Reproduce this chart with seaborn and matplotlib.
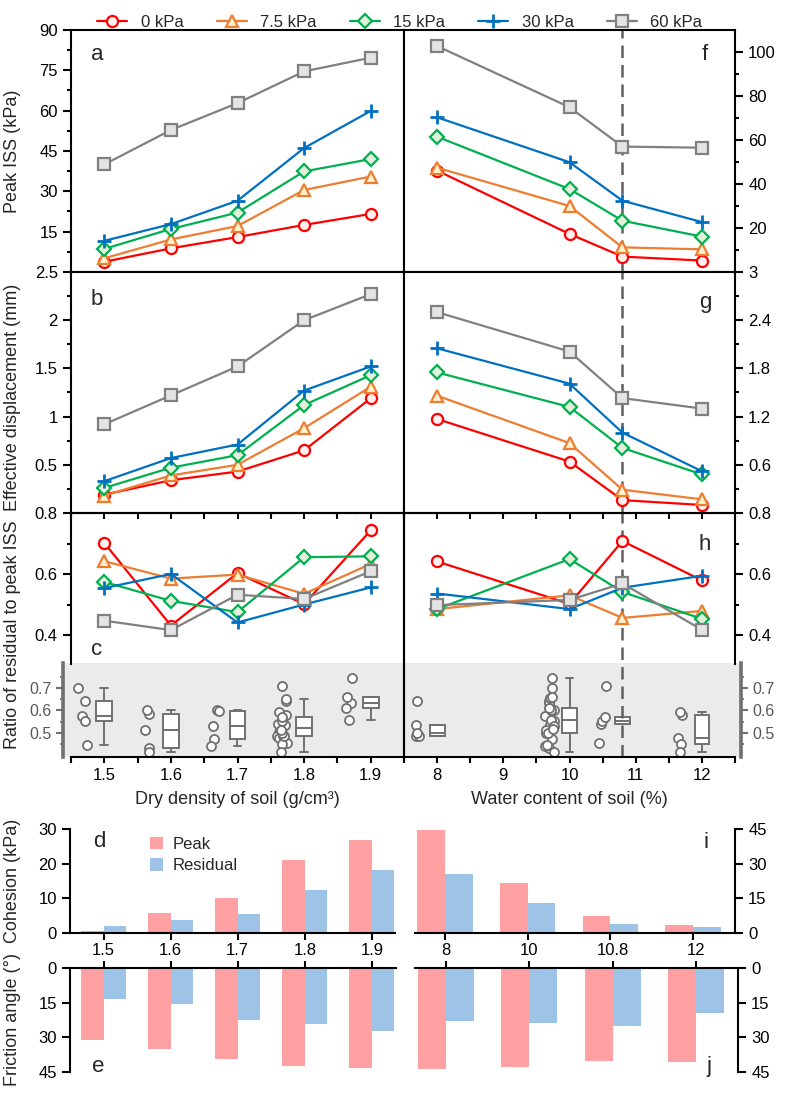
import numpy as np
import pandas as pd
import matplotlib.pyplot as plt
import seaborn as sns

# --- DATA ---
LOADS = ['0 kPa', '7.5 kPa', '15 kPa', '30 kPa', '60 kPa']
DENSITY = [1.5, 1.6, 1.7, 1.8, 1.9]
WATER = [8, 10, 10.8, 12]

# rows follow LOADS
PEAK_DENSITY = [[3.8, 8.8, 13.0, 17.5, 21.6],
                [5.1, 12.1, 17.1, 30.5, 35.5],
                [8.6, 16.0, 22.1, 37.4, 42.0],
                [11.6, 17.8, 26.5, 46.1, 59.9],
                [40.0, 52.8, 62.8, 74.6, 79.7]]
PEAK_WATER = [[46.1, 17.3, 7.0, 5.2],
              [47.4, 30.0, 11.2, 10.3],
              [61.5, 37.7, 23.3, 16.1],
              [70.3, 49.9, 32.4, 22.7],
              [102.7, 74.9, 57.0, 56.5]]
DISP_DENSITY = [[0.19, 0.34, 0.43, 0.65, 1.19],
                [0.18, 0.39, 0.50, 0.88, 1.31],
                [0.26, 0.47, 0.60, 1.12, 1.43],
                [0.33, 0.57, 0.71, 1.27, 1.52],
                [0.92, 1.22, 1.52, 2.00, 2.27]]
DISP_WATER = [[1.17, 0.64, 0.16, 0.10],
              [1.46, 0.87, 0.29, 0.17],
              [1.75, 1.32, 0.81, 0.48],
              [2.05, 1.61, 1.00, 0.52],
              [2.50, 2.01, 1.43, 1.30]]
RATIO_DENSITY = [[0.702, 0.431, 0.603, 0.501, 0.743],
                 [0.642, 0.585, 0.598, 0.535, 0.633],
                 [0.574, 0.512, 0.475, 0.655, 0.658],
                 [0.554, 0.600, 0.441, 0.500, 0.556],
                 [0.447, 0.416, 0.532, 0.518, 0.609]]
RATIO_WATER = [[0.641, 0.502, 0.708, 0.579],
               [0.485, 0.530, 0.456, 0.479],
               [0.485, 0.649, 0.541, 0.453],
               [0.536, 0.485, 0.555, 0.594],
               [0.498, 0.515, 0.569, 0.417]]

COH_PEAK_D = [0.7, 5.9, 10.1, 21.2, 26.9]
COH_RES_D = [1.9, 3.8, 5.6, 12.3, 18.3]
FRIC_PEAK_D = [31.2, 35.2, 39.5, 42.2, 43.2]
FRIC_RES_D = [13.5, 15.7, 22.5, 24.2, 27.4]
COH_PEAK_W = [44.6, 21.8, 7.5, 3.3]
COH_RES_W = [25.7, 12.8, 3.8, 2.8]
FRIC_PEAK_W = [43.8, 42.8, 40.2, 40.6]
FRIC_RES_W = [22.9, 23.9, 25.1, 19.3]

# --- STYLE ---
LINE_COLORS = ['#FF0000', '#ED7D31', '#00B050', '#0070C0', '#808080']
FACE_COLORS = ['#FFF0F0', '#FFF2CC', '#E2EFDA', '#0070C0', '#E4E4E4']
MARKERS = ['o', '^', 'D', '+', 's']
MSIZES = [8, 8.5, 7, 10, 8]
PINK, LIGHTBLUE = '#FFA0A2', '#9DC3E6'
BOXGRAY = '#707070'
W, H = 787, 1095

sns.set_style("ticks")
plt.rcParams['font.family'] = ['Liberation Sans', 'DejaVu Sans']
plt.rcParams.update({
    'axes.linewidth': 1.5, 'axes.edgecolor': 'black',
    'xtick.major.width': 1.5, 'ytick.major.width': 1.5,
    'xtick.minor.width': 1.5, 'ytick.minor.width': 1.5,
    'xtick.color': 'black', 'ytick.color': 'black',
    'xtick.labelsize': 12, 'ytick.labelsize': 12, 'axes.labelsize': 13,
    'font.size': 12,
})

fig = plt.figure(figsize=(W / 100, H / 100), dpi=100)


def add_ax(x0, y0, x1, y1):
    # pixel box -> figure fraction
    return fig.add_axes([x0 / W, 1 - y1 / H, (x1 - x0) / W, (y1 - y0) / H])


def draw_lines(ax, xs, rows):
    for i, vals in enumerate(rows):
        sns.lineplot(x=xs, y=vals, ax=ax, color=LINE_COLORS[i], linewidth=1.6,
                     marker=MARKERS[i], markersize=MSIZES[i],
                     markerfacecolor=FACE_COLORS[i], markeredgecolor=LINE_COLORS[i],
                     markeredgewidth=2 if MARKERS[i] == '+' else 1.6,
                     label=LOADS[i], legend=False)


def style_line_ax(ax, side, xmajor, xminor, xlim, letter, lpos, labels=False):
    ax.set_xlim(*xlim)
    ax.set_xticks(xmajor)
    ax.set_xticks(xminor, minor=True)
    ax.tick_params(axis='x', which='both', bottom=True, top=False, length=4.5,
                   labelbottom=labels)
    if side == 'left':
        ax.tick_params(axis='y', which='major', left=True, right=False, length=6)
        ax.tick_params(axis='y', which='minor', left=True, right=False, length=3)
    else:
        ax.yaxis.tick_right()
        ax.tick_params(axis='y', which='major', left=False, right=True, length=6,
                       labelleft=False, labelright=True)
        ax.tick_params(axis='y', which='minor', left=False, right=True, length=3)
    ax.set_xlabel('')
    ax.set_ylabel('')
    ax.text(lpos[0], lpos[1], letter, transform=ax.transAxes, fontsize=16,
            ha='center', va='center')


def set_y(ax, lim, major, labels, minor):
    ax.set_ylim(*lim)
    ax.set_yticks(major)
    ax.set_yticklabels(labels)
    ax.set_yticks(minor, minor=True)


dens_major = DENSITY
dens_minor = [1.45, 1.55, 1.65, 1.75, 1.85, 1.95]
dens_lim = (1.45, 1.95)
wat_major = [8, 9, 10, 11, 12]
wat_minor = [7.5, 8.5, 9.5, 10.5, 11.5, 12.5]
wat_lim = (7.5, 12.5)

# --- box-plot strip (drawn first so the ratio panels sit on top) ---
box_l = add_ax(63, 663, 404, 757)
box_r = add_ax(404, 663, 741, 757)

# base condition (1.8 g/cm3, 10 %) pools the samples of the other series
box_rows_d = []
for j, x in enumerate(DENSITY):
    vals = [v for row in RATIO_WATER for v in row] if x == 1.8 else [row[j] for row in RATIO_DENSITY]
    box_rows_d += [(x, v) for v in vals]
box_rows_w = []
for j, x in enumerate(WATER):
    vals = [v for row in RATIO_DENSITY for v in row] if x == 10 else [row[j] for row in RATIO_WATER]
    box_rows_w += [(x, v) for v in vals]
box_d = pd.DataFrame(box_rows_d, columns=['x', 'ratio'])
box_w = pd.DataFrame(box_rows_w, columns=['x', 'ratio'])

np.random.seed(7)  # fixed jitter of the sample dots
for bx, df, shift, bw, jit, lim, side in [
        (box_l, box_d, 0.033, 0.24, 0.075, (1.438, 1.95), 'left'),
        (box_r, box_w, 0.30, 0.28, 0.095, (7.5, 12.59), 'right')]:
    bx.set_facecolor('#EBEBEB')
    sns.boxplot(x=df['x'], y=df['ratio'], native_scale=True, orient='x', width=bw,
                color='white', linecolor=BOXGRAY, linewidth=1.4, showfliers=False,
                whis=1.5, ax=bx)
    sns.stripplot(x=df['x'] - shift, y=df['ratio'], native_scale=True, orient='x',
                  jitter=jit, color='white', edgecolor=BOXGRAY, linewidth=1.3,
                  size=6.5, ax=bx)
    bx.set_xlim(*lim)
    bx.set_ylim(0.393, 0.811)
    bx.set_xticks([])
    bx.set_yticks([0.5, 0.6, 0.7])
    bx.set_yticks([0.45, 0.55, 0.65, 0.75], minor=True)
    bx.set_xlabel('')
    bx.set_ylabel('')
    for s in ['top', 'bottom']:
        bx.spines[s].set_visible(False)
    other = 'right' if side == 'left' else 'left'
    bx.spines[other].set_visible(False)
    bx.spines[side].set_color(BOXGRAY)
    bx.spines[side].set_linewidth(2.6)
    if side == 'right':
        bx.yaxis.tick_right()
    bx.tick_params(axis='y', which='major', colors=BOXGRAY, labelcolor='#595959',
                   length=5, width=1.5, labelsize=11.5)
    bx.tick_params(axis='y', which='minor', colors=BOXGRAY, length=2.5, width=1.2)

# --- line panels ---
ax_a = add_ax(71, 30, 404, 272)
ax_f = add_ax(404, 30, 735, 272)
ax_b = add_ax(71, 272, 404, 513)
ax_g = add_ax(404, 272, 735, 513)
ax_c = add_ax(71, 513, 404, 757)
ax_h = add_ax(404, 513, 735, 757)

draw_lines(ax_a, DENSITY, PEAK_DENSITY)
draw_lines(ax_f, WATER, PEAK_WATER)
draw_lines(ax_b, DENSITY, DISP_DENSITY)
draw_lines(ax_g, WATER, DISP_WATER)
draw_lines(ax_c, DENSITY, RATIO_DENSITY)
draw_lines(ax_h, WATER, RATIO_WATER)

style_line_ax(ax_a, 'left', dens_major, dens_minor, dens_lim, 'a', (0.078, 0.897))
style_line_ax(ax_f, 'right', wat_major, wat_minor, wat_lim, 'f', (0.909, 0.897))
style_line_ax(ax_b, 'left', dens_major, dens_minor, dens_lim, 'b', (0.078, 0.884))
style_line_ax(ax_g, 'right', wat_major, wat_minor, wat_lim, 'g', (0.909, 0.875))
style_line_ax(ax_c, 'left', dens_major, dens_minor, dens_lim, 'c', (0.078, 0.44), labels=True)
style_line_ax(ax_h, 'right', wat_major, wat_minor, wat_lim, 'h', (0.909, 0.869), labels=True)

set_y(ax_a, (0, 90), [15, 30, 45, 60, 75, 90], ['15', '30', '45', '60', '75', '90'],
      [7.5, 22.5, 37.5, 52.5, 67.5, 82.5])
set_y(ax_f, (0, 110), [20, 40, 60, 80, 100], ['20', '40', '60', '80', '100'],
      [10, 30, 50, 70, 90])
set_y(ax_b, (0, 2.5), [0.5, 1, 1.5, 2, 2.5], ['0.5', '1', '1.5', '2', '2.5'],
      [0.25, 0.75, 1.25, 1.75, 2.25])
set_y(ax_g, (0, 3), [0.6, 1.2, 1.8, 2.4, 3], ['0.6', '1.2', '1.8', '2.4', '3'],
      [0.3, 0.9, 1.5, 2.1, 2.7])
set_y(ax_c, (0, 0.8), [0.4, 0.6, 0.8], ['0.4', '0.6', '0.8'], [0.5, 0.7])
set_y(ax_h, (0, 0.8), [0.4, 0.6, 0.8], ['0.4', '0.6', '0.8'], [0.5, 0.7])

for ax in (ax_c, ax_h):
    ax.patch.set_visible(False)
ax_c.spines['left'].set_bounds(0.305, 0.8)
ax_h.spines['right'].set_bounds(0.305, 0.8)

for ax in (ax_f, ax_g, ax_h):
    ax.axvline(10.8, color='#606060', lw=1.8, ls=(0, (5, 2.8)), zorder=1)

ax_a.set_ylabel('Peak ISS (kPa)')
ax_b.set_ylabel('Effective displacement (mm)')
ax_c.set_ylabel('Ratio of residual to peak ISS')
for ax in (ax_a, ax_b, ax_c):
    ax.yaxis.set_label_coords(-0.15, 0.5)
ax_b.yaxis.set_label_coords(-0.15, 0.48)
ax_c.set_xlabel('Dry density of soil (g/cm³)', labelpad=6)
ax_h.set_xlabel('Water content of soil (%)', labelpad=6)

handles, labels = ax_a.get_legend_handles_labels()
fig.legend(handles, labels, loc='upper center', bbox_to_anchor=(0.508, 1.0), ncol=5,
           frameon=False, handlelength=1.8, handletextpad=0.8, columnspacing=2.0,
           fontsize=12)

# --- bar panels ---
ax_d = add_ax(70, 829, 395, 933)
ax_e = add_ax(70, 968, 396, 1072)
ax_i = add_ax(415, 829, 735, 933)
ax_j = add_ax(415, 968, 738, 1072)


def draw_bars(ax, cats, peak, resid, legend=False):
    n = len(cats)
    df = pd.DataFrame({'cat': cats * 2, 'val': peak + resid,
                       'kind': ['Peak'] * n + ['Residual'] * n})
    sns.barplot(data=df, x='cat', y='val', hue='kind', palette=[PINK, LIGHTBLUE],
                width=0.67, saturation=1, linewidth=0, legend=legend, ax=ax)
    ax.set_xlabel('')
    ax.set_ylabel('')


dens_cats = [str(v) for v in DENSITY]
wat_cats = [str(v) for v in WATER]
draw_bars(ax_d, dens_cats, COH_PEAK_D, COH_RES_D, legend=True)
draw_bars(ax_e, dens_cats, FRIC_PEAK_D, FRIC_RES_D)
draw_bars(ax_i, wat_cats, COH_PEAK_W, COH_RES_W)
draw_bars(ax_j, wat_cats, FRIC_PEAK_W, FRIC_RES_W)

ax_d.legend(loc='upper left', bbox_to_anchor=(0.2, 1.07), frameon=False,
            handlelength=0.75, handleheight=0.75, handletextpad=0.6,
            labelspacing=0.4, fontsize=12)

ax_d.set_xlim(-0.5, 4.35)
ax_e.set_xlim(-0.5, 4.36)
ax_i.set_xlim(-0.363, 3.51)
ax_j.set_xlim(-0.37, 3.50)

ax_d.set_ylim(0, 30)
ax_d.set_yticks([0, 10, 20, 30])
ax_i.set_ylim(0, 45)
ax_i.set_yticks([0, 15, 30, 45])
for ax in (ax_e, ax_j):
    ax.set_ylim(45, 0)
    ax.set_yticks([0, 15, 30, 45])

for ax in (ax_d, ax_i):
    ax.spines['top'].set_visible(False)
    ax.tick_params(axis='x', bottom=True, top=False, length=5, labelbottom=False)
for ax in (ax_e, ax_j):
    ax.spines['bottom'].set_visible(False)
    ax.xaxis.tick_top()
    ax.tick_params(axis='x', bottom=False, top=True, length=5, labeltop=True,
                   labelbottom=False, pad=2)
for ax in (ax_d, ax_e):
    ax.spines['right'].set_visible(False)
    ax.tick_params(axis='y', left=True, right=False, length=6)
for ax in (ax_i, ax_j):
    ax.spines['left'].set_visible(False)
    ax.yaxis.tick_right()
    ax.tick_params(axis='y', left=False, right=True, length=6, labelright=True)

ax_d.set_ylabel('Cohesion (kPa)')
ax_e.set_ylabel('Friction angle (°)')
for ax in (ax_d, ax_e):
    ax.yaxis.set_label_coords(-0.15, 0.5)

ax_d.text(0.09, 0.88, 'd', transform=ax_d.transAxes, fontsize=16, ha='center', va='center')
ax_e.text(0.085, 0.05, 'e', transform=ax_e.transAxes, fontsize=16, ha='center', va='center')
ax_i.text(0.91, 0.87, 'i', transform=ax_i.transAxes, fontsize=16, ha='center', va='center')
ax_j.text(0.91, 0.05, 'j', transform=ax_j.transAxes, fontsize=16, ha='center', va='center')

fig.savefig('out.png', dpi=100)
